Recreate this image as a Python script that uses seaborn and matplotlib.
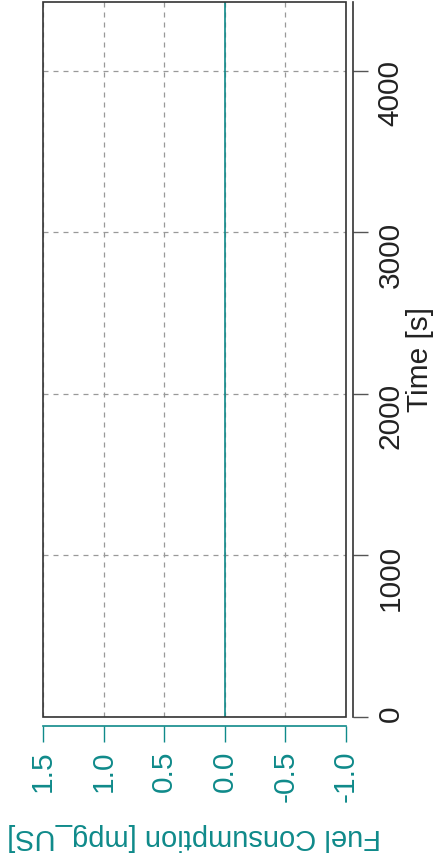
import matplotlib
matplotlib.use("Agg")
import matplotlib.pyplot as plt
import seaborn as sns
import pandas as pd
from matplotlib.patches import Rectangle

# Data
time_s = [0, 1000, 2000, 3000, 4000, 4427]
fuel_mpg = [0.0, 0.0, 0.0, 0.0, 0.0, 0.0]
fuel_ticks = [1.5, 1.0, 0.5, 0.0, -0.5, -1.0]
fuel_ticklabels = ["1.5", "1.0", "0.5", "0.0", "-0.5", "-1.0"]
time_ticks = [0, 1000, 2000, 3000, 4000]
time_ticklabels = ["0", "1000", "2000", "3000", "4000"]

sns.set_style("white")
plt.rcParams['font.family'] = ['Liberation Sans', 'DejaVu Sans']

teal = "#0f8a8a"
dark = "#222222"

df = pd.DataFrame({"time": time_s, "fuel": fuel_mpg})

fig = plt.figure(figsize=(4.37, 8.67), dpi=100)
ax = fig.add_axes([43/437, (867-717)/867, (346-43)/437, (717-2)/867])

sns.lineplot(data=df, x="fuel", y="time", orient="y", color=teal, lw=1.2, ax=ax)

ax.set_xlim(1.5, -1.0)
ax.set_ylim(0, 4427)
ax.set_xticks(fuel_ticks)
ax.set_xticklabels(fuel_ticklabels)
ax.set_yticks(time_ticks)
ax.set_yticklabels(time_ticklabels)

ax.grid(True, linestyle=(0, (4, 4)), color="#999999", lw=0.9)

# Box around plot area
ax.add_patch(Rectangle((0, 0), 1, 1, transform=ax.transAxes, fill=False,
                       edgecolor="#333333", lw=1.2, clip_on=False, zorder=5))

for s in ["left", "top"]:
    ax.spines[s].set_visible(False)
ax.spines["bottom"].set_position(("outward", 6.5))
ax.spines["bottom"].set_color(teal)
ax.spines["bottom"].set_linewidth(1.2)
ax.spines["right"].set_visible(True)
ax.spines["right"].set_position(("outward", 5))
ax.spines["right"].set_color("#333333")
ax.spines["right"].set_linewidth(1.2)

ax.yaxis.tick_right()
ax.yaxis.set_label_position("right")

ax.tick_params(axis="x", direction="out", length=11.5, width=1.0, color=teal,
               labelcolor=teal, labelsize=21.5, labelrotation=90, pad=6,
               bottom=True)
ax.tick_params(axis="y", direction="out", length=11, width=1.0, color="#555555",
               labelcolor=dark, labelsize=21.5, labelrotation=90, pad=6,
               right=True, left=False)

ax.set_xlabel("Fuel Consumption [mpg_US]", color=teal, fontsize=21,
              rotation=180, labelpad=15)
ax.set_ylabel("Time [s]", color=dark, fontsize=21.5, rotation=90, labelpad=1)

fig.savefig("out.png", dpi=100)
